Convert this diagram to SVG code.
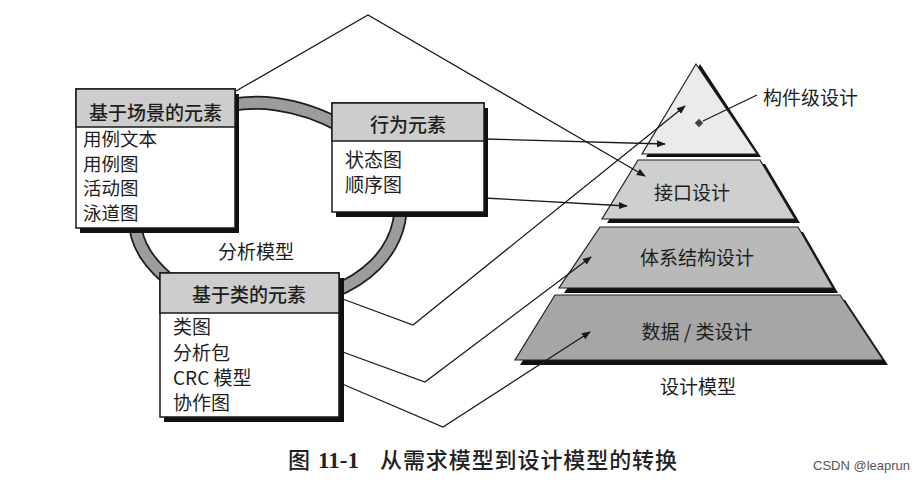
<svg xmlns="http://www.w3.org/2000/svg" width="922" height="480" viewBox="0 0 922 480">
<defs>
<style>
.t{font-family:"Noto Sans CJK SC","Noto Sans",sans-serif;font-size:19px;fill:#1e1e1e}
.s{font-size:18.5px}
.h{font-weight:500}
.box{fill:#fff;stroke:#1a1a1a;stroke-width:1.5}
.hdr{fill:#cdcdcd;stroke:#1a1a1a;stroke-width:1.5}
.sh{fill:#111}
.ln{fill:none;stroke:#1a1a1a;stroke-width:1.3}
.lv{stroke:#222;stroke-width:1.2}
</style>
<marker id="ah" viewBox="0 0 10 10" refX="9" refY="5" markerWidth="9" markerHeight="9" markerUnits="userSpaceOnUse" orient="auto">
<path d="M0,1 L10,5 L0,9 Z" fill="#1a1a1a"/>
</marker>
</defs>
<rect width="922" height="480" fill="#fff"/>

<!-- ring -->
<g id="ring">
<path d="M200 112 C230 103 255 101 275 104 C320 110 370 135 393 175 C408 205 400 240 375 265 C330 310 230 320 175 285 C150 265 135 245 135 220 C135 170 160 130 200 112 Z" fill="none" stroke="#1c1c1c" stroke-width="14"/>
<path d="M200 112 C230 103 255 101 275 104 C320 110 370 135 393 175 C408 205 400 240 375 265 C330 310 230 320 175 285 C150 265 135 245 135 220 C135 170 160 130 200 112 Z" fill="none" stroke="#9c9c9c" stroke-width="10.5"/>
</g>

<text class="t" x="256" y="259" text-anchor="middle">分析模型</text>

<!-- pyramid -->
<g id="pyr-top">
<polygon class="sh" points="700,64 761,157 646,157"/>
<polygon points="696,64 757,154 642,154" fill="#ebebeb" class="lv"/>
<rect x="696" y="120" width="6" height="6" transform="rotate(45 699 123)" fill="#444"/>
</g>
<g id="pyr-interface">
<polygon class="sh" points="643,164 765,164 800,223 607,223"/>
<polygon points="638,160 760,160 795,219 602,219" fill="#cfcfcf" class="lv"/>
<text class="t" x="692" y="200" text-anchor="middle">接口设计</text>
</g>
<g id="pyr-arch">
<polygon class="sh" points="605,232 803,232 838,293 564,293"/>
<polygon points="600,227 798,227 833,288 559,288" fill="#b9b9b9" class="lv"/>
<text class="t" x="697" y="265" text-anchor="middle">体系结构设计</text>
</g>
<g id="pyr-data">
<polygon class="sh" points="560,300 845,300 888,365 520,365"/>
<polygon points="555,295 840,295 883,360 515,360" fill="#a6a6a6" class="lv"/>
<text class="t" x="697" y="339" text-anchor="middle">数据 / 类设计</text>
</g>
<text class="t" x="698" y="394" text-anchor="middle">设计模型</text>
<text class="t" x="763" y="105">构件级设计</text>

<!-- connectors -->
<g id="connectors">
<polyline class="ln" points="236,91 368,15 645,176" marker-end="url(#ah)"/>
<line class="ln" x1="484" y1="139" x2="665" y2="144" marker-end="url(#ah)"/>
<line class="ln" x1="484" y1="198" x2="627" y2="206" marker-end="url(#ah)"/>
<polyline class="ln" points="340,298 413,325 685,106" marker-end="url(#ah)"/>
<polyline class="ln" points="340,351 425,382 591,257" marker-end="url(#ah)"/>
<polyline class="ln" points="340,383 443,427 590,332" marker-end="url(#ah)"/>
<line class="ln" x1="757" y1="95" x2="703" y2="121"/>
</g>

<!-- box 1 -->
<g id="scenario">
<rect class="sh" x="80" y="94" width="159" height="139"/>
<rect class="box" x="76" y="89" width="159" height="139"/>
<rect class="hdr" x="76" y="89" width="159" height="38"/>
<text class="t h" x="155.5" y="120" text-anchor="middle">基于场景的元素</text>
<text class="t s" x="83" y="146">用例文本</text>
<text class="t s" x="83" y="170.5">用例图</text>
<text class="t s" x="83" y="195">活动图</text>
<text class="t s" x="83" y="219.5">泳道图</text>
</g>

<!-- box 2 -->
<g id="behavior">
<rect class="sh" x="336" y="108" width="152" height="109"/>
<rect class="box" x="332" y="103" width="152" height="109"/>
<rect class="hdr" x="332" y="103" width="152" height="38"/>
<text class="t h" x="408" y="132" text-anchor="middle">行为元素</text>
<text class="t" x="345" y="167">状态图</text>
<text class="t" x="345" y="192">顺序图</text>
</g>

<!-- box 3 -->
<g id="class">
<rect class="sh" x="164" y="278" width="180" height="144"/>
<rect class="box" x="160" y="273" width="179" height="144"/>
<rect class="hdr" x="160" y="273" width="179" height="40"/>
<text class="t h" x="249" y="302" text-anchor="middle">基于类的元素</text>
<text class="t" x="173" y="334">类图</text>
<text class="t" x="173" y="360">分析包</text>
<text class="t" x="173" y="385">CRC 模型</text>
<text class="t" x="173" y="410">协作图</text>
</g>

<!-- caption -->
<g id="caption" font-family="'Liberation Serif','Noto Sans CJK SC',serif" font-size="23" font-weight="bold" fill="#222">
<text x="288" y="468" font-family="'Noto Sans CJK SC',sans-serif" font-weight="500" font-size="22">图</text>
<text x="318" y="468">11-1</text>
<text x="380" y="468" font-family="'Noto Sans CJK SC',sans-serif" font-weight="500" font-size="22" textLength="297">从需求模型到设计模型的转换</text>
</g>
<text x="813" y="470" font-family="'Liberation Sans',sans-serif" font-size="13" fill="#555">CSDN @leaprun</text>
</svg>
